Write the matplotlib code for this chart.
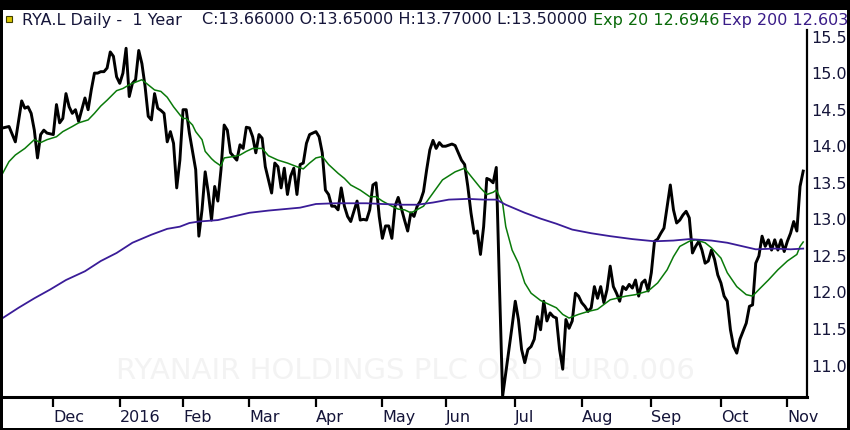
import numpy as np
import pandas as pd
import matplotlib
matplotlib.use("Agg")
import matplotlib.pyplot as plt
from matplotlib.patches import Rectangle

# trading sessions (LSE) covered by the chart
uk_holidays = ["2015-12-25", "2015-12-28", "2016-01-01", "2016-03-25",
               "2016-03-28", "2016-05-02", "2016-05-30", "2016-08-29"]
sessions = pd.bdate_range("2015-11-09", "2016-11-08", freq="C", holidays=uk_holidays)

# daily close (session index -> price)
close_day = [0, 2, 4, 6, 7, 8, 9, 10, 11, 12, 13, 14, 16, 17, 18, 19, 20, 21, 22, 23,
             24, 26, 27, 28, 29, 30, 31, 32, 33, 34, 35, 36, 37, 38, 39, 40, 41, 42, 43, 44,
             45, 46, 47, 48, 49, 50, 51, 52, 53, 54, 55, 56, 57, 58, 59, 61, 62, 63, 64, 65,
             66, 67, 68, 69, 70, 71, 72, 73, 74, 75, 76, 77, 78, 79, 80, 81, 82, 83, 84, 85,
             86, 87, 88, 89, 90, 91, 92, 93, 94, 95, 96, 97, 99, 100, 101, 102, 103, 104, 105, 106,
             107, 108, 109, 110, 112, 113, 114, 115, 116, 117, 118, 119, 120, 121, 122, 123, 124, 125, 126, 127,
             128, 129, 130, 131, 132, 133, 134, 135, 136, 137, 138, 139, 140, 142, 143, 144, 145, 146, 147, 148,
             149, 150, 151, 152, 153, 154, 155, 156, 157, 158, 159, 160, 161, 162, 163, 164, 165, 166, 167, 168,
             169, 170, 171, 172, 173, 174, 175, 176, 177, 178, 179, 180, 181, 182, 183, 184, 185, 186, 187, 188,
             189, 190, 191, 192, 193, 194, 195, 196, 197, 198, 199, 200, 201, 202, 203, 204, 205, 206, 207, 208,
             209, 210, 211, 212, 213, 214, 215, 216, 217, 218, 219, 220, 221, 222, 223, 224, 225, 226, 227, 228,
             229, 230, 231, 232, 233, 234, 235, 236, 237, 238, 239, 240, 241, 242, 243, 244, 245, 246, 247, 248,
             249, 250, 251, 252, 253]
close = [14.25, 14.27, 14.06, 14.62, 14.52, 14.54, 14.45, 14.22, 13.84, 14.16, 14.22, 14.18, 14.16, 14.57, 14.32, 14.38, 14.72, 14.54, 14.45, 14.50,
         14.34, 14.66, 14.50, 14.77, 15.00, 15.00, 15.02, 15.02, 15.07, 15.29, 15.23, 14.95, 14.86, 15.00, 15.34, 14.68, 14.86, 14.91, 15.31, 15.13,
         14.82, 14.41, 14.36, 14.72, 14.52, 14.49, 14.45, 14.06, 14.20, 14.04, 13.43, 13.81, 14.50, 14.50, 14.18, 13.68, 12.77, 13.13, 13.65, 13.36,
         12.99, 13.45, 13.25, 13.68, 14.29, 14.22, 13.91, 13.86, 13.81, 14.02, 13.97, 14.26, 14.25, 14.13, 13.91, 14.16, 14.11, 13.72, 13.54, 13.36,
         13.77, 13.72, 13.43, 13.70, 13.34, 13.59, 13.70, 13.34, 13.75, 13.77, 14.04, 14.16, 14.20, 14.13, 13.91, 13.40, 13.34, 13.18, 13.18, 13.13,
         13.43, 13.18, 13.04, 12.97, 13.25, 12.99, 13.00, 12.99, 13.13, 13.47, 13.50, 13.04, 12.74, 12.91, 12.91, 12.74, 13.18, 13.30, 13.15, 12.99,
         12.84, 13.09, 13.04, 13.18, 13.25, 13.38, 13.68, 13.95, 14.08, 13.97, 14.05, 14.00, 14.00, 14.03, 14.01, 13.91, 13.81, 13.75, 13.45, 13.09,
         12.81, 12.84, 12.52, 12.90, 13.56, 13.54, 13.50, 13.71, 12.10, 10.58, 10.90, 11.22, 11.54, 11.88, 11.63, 11.22, 11.04, 11.22, 11.26, 11.36,
         11.67, 11.49, 11.88, 11.61, 11.72, 11.67, 11.65, 11.22, 10.95, 11.63, 11.51, 11.61, 11.99, 11.95, 11.86, 11.81, 11.74, 11.79, 12.08, 11.92,
         12.08, 11.86, 12.04, 12.36, 12.08, 11.99, 11.88, 12.08, 12.04, 12.11, 12.06, 12.17, 11.95, 12.13, 12.17, 12.02, 12.27, 12.70, 12.73, 12.81,
         12.88, 13.18, 13.47, 13.13, 12.95, 12.99, 13.06, 13.11, 13.02, 12.54, 12.63, 12.70, 12.58, 12.40, 12.43, 12.58, 12.45, 12.24, 12.13, 11.95,
         11.88, 11.49, 11.26, 11.17, 11.36, 11.47, 11.58, 11.81, 11.83, 12.40, 12.50, 12.77, 12.63, 12.72, 12.58, 12.72, 12.58, 12.72, 12.56, 12.70,
         12.81, 12.97, 12.84, 13.45, 13.66]

# exponential moving averages
ema20_day = [0, 2, 4, 7, 10, 12, 14, 17, 19, 22, 24, 27, 29, 31, 33, 36, 38, 40, 41, 44,
             46, 48, 50, 52, 54, 56, 57, 58, 60, 61, 63, 64, 66, 67, 69, 70, 73, 75, 77, 79,
             82, 84, 87, 90, 93, 95, 97, 99, 101, 103, 106, 108, 110, 113, 116, 118, 120, 123, 125, 127,
             129, 130, 133, 136, 139, 143, 146, 148, 151, 153, 155, 156, 158, 159, 161, 163, 165, 167, 170, 173,
             175, 177, 179, 182, 185, 188, 192, 194, 197, 200, 204, 207, 210, 212, 214, 217, 219, 222, 224, 227,
             229, 232, 235, 237, 239, 242, 245, 248, 251, 252, 253]
ema20 = [13.63, 13.79, 13.88, 13.97, 14.09, 14.05, 14.09, 14.13, 14.20, 14.27, 14.32, 14.36, 14.45, 14.55, 14.63, 14.76, 14.79, 14.84, 14.86, 14.91,
         14.84, 14.77, 14.75, 14.67, 14.54, 14.43, 14.38, 14.38, 14.29, 14.20, 14.09, 13.93, 13.83, 13.79, 13.73, 13.84, 13.86, 13.88, 13.93, 13.97,
         13.97, 13.87, 13.81, 13.77, 13.72, 13.69, 13.77, 13.84, 13.86, 13.75, 13.63, 13.56, 13.47, 13.40, 13.31, 13.31, 13.25, 13.18, 13.14, 13.13,
         13.09, 13.11, 13.18, 13.36, 13.54, 13.65, 13.70, 13.59, 13.43, 13.34, 13.37, 13.40, 13.22, 12.90, 12.58, 12.40, 12.13, 11.99, 11.89, 11.83,
         11.79, 11.70, 11.65, 11.70, 11.74, 11.77, 11.90, 11.92, 11.95, 11.97, 12.02, 12.13, 12.31, 12.49, 12.63, 12.70, 12.72, 12.68, 12.61, 12.47,
         12.27, 12.08, 11.97, 11.95, 12.04, 12.17, 12.31, 12.43, 12.52, 12.63, 12.69]

ema200_day = [0, 5, 10, 15, 20, 26, 31, 36, 41, 47, 52, 56, 59, 62, 68, 73, 78, 84, 89, 94,
              99, 105, 110, 115, 120, 126, 131, 136, 141, 147, 152, 156, 159, 165, 170, 175, 180, 186, 192, 199,
              206, 212, 217, 224, 229, 234, 238, 244, 249, 253]
ema200 = [11.65, 11.79, 11.92, 12.04, 12.17, 12.29, 12.43, 12.54, 12.68, 12.79, 12.87, 12.90, 12.95, 12.97, 12.99, 13.04, 13.09, 13.12, 13.14, 13.16,
          13.21, 13.22, 13.22, 13.22, 13.21, 13.20, 13.20, 13.23, 13.27, 13.28, 13.27, 13.27, 13.20, 13.09, 13.01, 12.94, 12.86, 12.81, 12.77, 12.73,
          12.70, 12.71, 12.73, 12.71, 12.68, 12.63, 12.59, 12.60, 12.59, 12.60]

y_ticks = [11.0, 11.5, 12.0, 12.5, 13.0, 13.5, 14.0, 14.5, 15.0, 15.5]

# month ticks: first session of each month
month_pos = [i for i in range(1, len(sessions)) if sessions[i].month != sessions[i - 1].month]
month_lab = ["2016" if sessions[i].month == 1 else sessions[i].strftime("%b") for i in month_pos]

W, H = 850, 430
TXT = "#15153a"


def fx(x):
    return x / W


def fy(y):
    return 1 - y / H


fig = plt.figure(figsize=(W / 100, H / 100), dpi=100, facecolor="black")
# white panel inside the black frame
fig.add_artist(Rectangle((fx(3), fy(428)), fx(844), 418 / H, transform=fig.transFigure,
                         facecolor="white", edgecolor="none", zorder=-5))

ax = fig.add_axes([fx(3), fy(397), fx(804), 367 / H])
ax.set_facecolor("white")

ax.plot(close_day, close, color="black", lw=2.1, zorder=3)
ax.plot(ema20_day, ema20, color="#0a7a0a", lw=1.1, zorder=4)
ax.plot(ema200_day, ema200, color="#3a1c98", lw=1.3, zorder=5)

# faint watermark
ax.text(0.5, 0.07, "RYANAIR HOLDINGS PLC ORD EUR0.006", transform=ax.transAxes,
        ha="center", va="center", fontsize=21, color="#f3f3f3", zorder=1)

ax.set_xlim(0.1, 254.2)
ax.set_ylim(10.57, 15.59)

for s in ["top", "left"]:
    ax.spines[s].set_visible(False)
ax.spines["bottom"].set_linewidth(2.2)
ax.spines["right"].set_linewidth(1.6)

ax.yaxis.tick_right()
ax.set_yticks(y_ticks)
ax.set_yticklabels([f"{v:.1f}" for v in y_ticks])
ax.tick_params(axis="y", length=0, pad=3, labelsize=11.5, labelcolor=TXT)

ax.set_xticks(month_pos)
ax.set_xticklabels(month_lab)
ax.tick_params(axis="x", direction="out", length=7.5, width=1.6, pad=2,
               labelsize=11.5, labelcolor=TXT)
plt.setp(ax.get_xticklabels(), ha="left")

# header line
fig.add_artist(Rectangle((fx(6), fy(22)), fx(6), 6 / H, transform=fig.transFigure,
                         facecolor="#d8c400", edgecolor="#404000", lw=0.8))
fig.text(fx(22), fy(20), "RYA.L Daily -  1 Year", fontsize=11.5, color=TXT, va="center")
fig.text(fx(202), fy(20), "C:13.66000 O:13.65000 H:13.77000 L:13.50000",
         fontsize=11.5, color=TXT, va="center")
fig.text(fx(593), fy(20), "Exp 20 12.6946", fontsize=11.5, color="#0a6a0a", va="center")
fig.text(fx(722), fy(20), "Exp 200 12.603", fontsize=11.5, color="#3a1c88", va="center")

fig.savefig("out.png", dpi=100, facecolor="black")
